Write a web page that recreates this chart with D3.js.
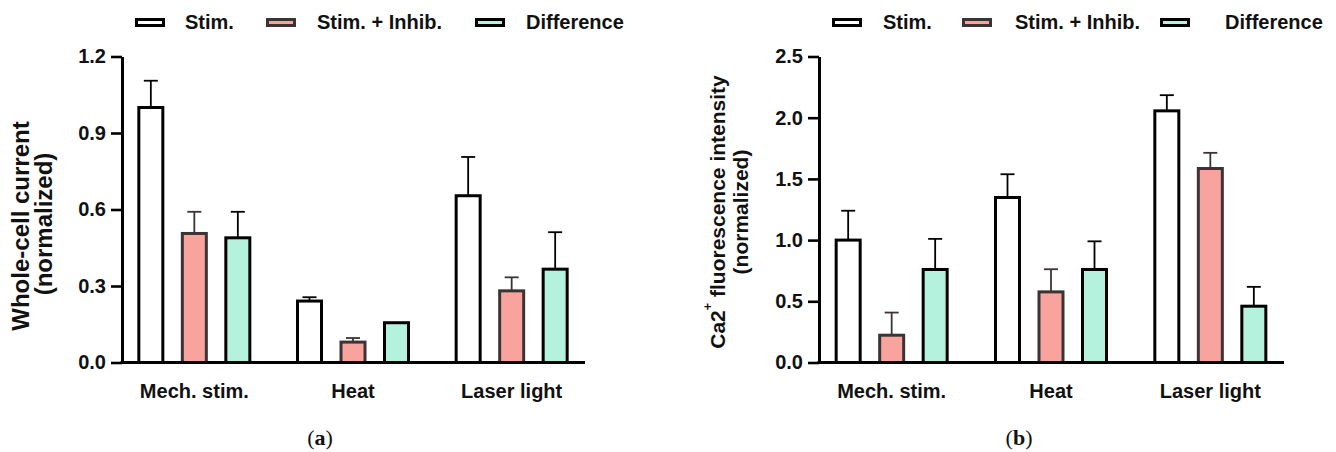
<!DOCTYPE html>
<html>
<head>
<meta charset="utf-8">
<script src="https://cdn.jsdelivr.net/npm/d3@7"></script>
<style>
  html, body { margin: 0; padding: 0; background: #fff; }
  svg { display: block; }
  text { font-family: "Liberation Sans", Arial, sans-serif; font-weight: bold; fill: #111; }
</style>
</head>
<body>
<svg id="chart" width="1336" height="452"></svg>
<script>
// ---- data ----
const categories = ["Mech. stim.", "Heat", "Laser light"];
const seriesNames = ["Stim.", "Stim. + Inhib.", "Difference"];

// (a) whole-cell current, normalized
const currentStim = [1.00, 0.241, 0.654];
const currentStimErr = [0.105, 0.015, 0.152];
const currentInhib = [0.506, 0.080, 0.281];
const currentInhibErr = [0.085, 0.016, 0.053];
const currentDiff = [0.489, 0.156, 0.366];
const currentDiffErr = [0.102, 0, 0.145];
const currentTicks = [0, 0.3, 0.6, 0.9, 1.2];

// (b) Ca2+ fluorescence intensity, normalized
const fluoStim = [1.00, 1.348, 2.056];
const fluoStimErr = [0.24, 0.19, 0.128];
const fluoInhib = [0.223, 0.577, 1.585];
const fluoInhibErr = [0.185, 0.185, 0.128];
const fluoDiff = [0.76, 0.76, 0.46];
const fluoDiffErr = [0.25, 0.23, 0.158];
const fluoTicks = [0, 0.5, 1.0, 1.5, 2.0, 2.5];

// ---- styles ----
const fills = ["#ffffff", "#f9a39f", "#b4f2de"];
const strokes = ["#000000", "#3b3434", "#000000"];

const svg = d3.select("#chart");
svg.append("rect").attr("width", 1336).attr("height", 452).attr("fill", "#fff");

function drawPanel(p) {
  const g = svg.append("g");
  const y = d3.scaleLinear().domain([0, p.yMax]).range([362.5, 56.5]);
  const x0 = d3.scaleBand().domain(categories).range(p.bandRange).padding(0);
  const x1 = d3.scalePoint().domain(seriesNames).range([-43.5, 43.5]);
  const barW = 24;

  const rows = [];
  p.series.forEach((vals, si) => {
    vals.forEach((v, ci) => {
      rows.push({ s: seriesNames[si], si, c: categories[ci], v, e: p.errors[si][ci] });
    });
  });
  const cx = d => x0(d.c) + x0.bandwidth() / 2 + x1(d.s);

  // error bars (upper only)
  const eb = g.append("g").selectAll("g").data(rows.filter(d => d.e > 0)).join("g")
    .attr("stroke", d => strokes[d.si]).attr("stroke-width", 1.8);
  eb.append("line").attr("x1", cx).attr("x2", cx)
    .attr("y1", d => y(d.v)).attr("y2", d => y(d.v + d.e));
  eb.append("line").attr("x1", d => cx(d) - 7).attr("x2", d => cx(d) + 7)
    .attr("y1", d => y(d.v + d.e)).attr("y2", d => y(d.v + d.e));

  // bars
  g.append("g").selectAll("rect").data(rows).join("rect")
    .attr("x", d => cx(d) - barW / 2)
    .attr("y", d => y(d.v))
    .attr("width", barW)
    .attr("height", d => y(0) - y(d.v))
    .attr("fill", d => fills[d.si])
    .attr("stroke", d => strokes[d.si])
    .attr("stroke-width", 3);

  // y axis
  const ax = g.append("g").attr("transform", `translate(${p.axisX},0)`)
    .call(d3.axisLeft(y).tickValues(p.ticks).tickFormat(d3.format(".1f"))
      .tickSize(11).tickSizeOuter(0).tickPadding(5));
  ax.select(".domain").attr("stroke", "#000").attr("stroke-width", 3);
  ax.selectAll(".tick line").attr("stroke", "#000").attr("stroke-width", 2.6);
  ax.selectAll(".tick text").attr("font-size", 20).attr("font-family", null)
    .attr("fill", "#111");

  // x axis baseline
  g.append("line").attr("x1", p.axisX - 1.5).attr("x2", p.axisEnd)
    .attr("y1", y(0)).attr("y2", y(0)).attr("stroke", "#000").attr("stroke-width", 3);

  // category labels
  g.append("g").selectAll("text").data(categories).join("text")
    .attr("x", d => x0(d) + x0.bandwidth() / 2)
    .attr("y", 398)
    .attr("text-anchor", "middle")
    .attr("font-size", 20)
    .text(d => d);

  // y title (two lines, rotated)
  p.title.forEach((line, i) => {
    const t = g.append("text")
      .attr("transform", `translate(${line.x},${line.y}) rotate(-90)`)
      .attr("text-anchor", "middle")
      .attr("dominant-baseline", "central")
      .attr("font-size", p.titleSize);
    line.parts.forEach(part => {
      const ts = t.append("tspan").text(part.text);
      if (part.sup) ts.attr("font-size", p.titleSize * 0.6).attr("dy", -p.titleSize * 0.42);
      if (part.after) ts.attr("dy", p.titleSize * 0.42);
    });
  });

  // legend
  seriesNames.forEach((name, i) => {
    g.append("rect").attr("x", p.legendSwatch[i] + 1.5).attr("y", 19.5)
      .attr("width", 27).attr("height", 6)
      .attr("fill", fills[i]).attr("stroke", strokes[i]).attr("stroke-width", 3);
    g.append("text").attr("x", p.legendText[i]).attr("y", 29.3)
      .attr("font-size", 20).text(name);
  });

  // panel letter
  const lt = g.append("text").attr("x", p.letterX).attr("y", 445)
    .attr("text-anchor", "middle")
    .style("font-family", "'Liberation Serif', 'Times New Roman', serif")
    .style("font-weight", "normal")
    .attr("font-size", 22);
  lt.append("tspan").text("(");
  lt.append("tspan").style("font-weight", "bold").text(p.letter);
  lt.append("tspan").text(")");
}

drawPanel({
  yMax: 1.2, ticks: currentTicks,
  series: [currentStim, currentInhib, currentDiff],
  errors: [currentStimErr, currentInhibErr, currentDiffErr],
  axisX: 122, axisEnd: 585, bandRange: [115, 591],
  titleSize: 24,
  title: [
    { x: 20, y: 226, parts: [{ text: "Whole-cell current" }] },
    { x: 43, y: 224, parts: [{ text: "(normalized)" }] }
  ],
  legendSwatch: [135, 266, 475], legendText: [185, 317, 526],
  letter: "a", letterX: 320
});

drawPanel({
  yMax: 2.5, ticks: fluoTicks,
  series: [fluoStim, fluoInhib, fluoDiff],
  errors: [fluoStimErr, fluoInhibErr, fluoDiffErr],
  axisX: 819, axisEnd: 1284, bandRange: [812, 1290],
  titleSize: 21,
  title: [
    { x: 717, y: 212, parts: [{ text: "Ca2" }, { text: "+", sup: true }, { text: " fluorescence intensity", after: true }] },
    { x: 740, y: 212, parts: [{ text: "(normalized)" }] }
  ],
  legendSwatch: [832, 962, 1160], legendText: [883, 1015, 1225],
  letter: "b", letterX: 1019
});
</script>
</body>
</html>
